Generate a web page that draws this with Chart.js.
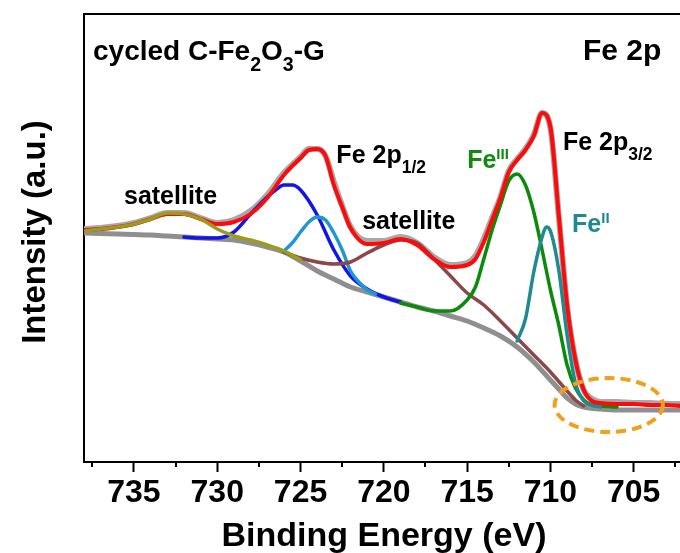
<!DOCTYPE html>
<html>
<head>
<meta charset="utf-8">
<title>Fe 2p</title>
<script src="https://cdn.jsdelivr.net/npm/chart.js@4.4.1/dist/chart.umd.min.js"></script>
<style>
    html, body { margin: 0; padding: 0; background: #fff; overflow: hidden; }
    #wrap { width: 680px; height: 553px; overflow: hidden; }
</style>
</head>
<body>
<div id="wrap"><canvas id="xps" width="720" height="553"></canvas></div>
<script>
// ============================
// Fe 2p spectrum (binding energy in eV, intensity in a.u.)
// ============================
const fitEnergy = [738, 737, 736, 735, 734, 733, 732, 731, 730, 729,
    728, 727, 726, 725, 724.5, 724, 723.5, 723, 722.5, 722,
    721, 720, 719, 718, 717, 716, 715, 714.5, 714, 713.5,
    713, 712.5, 712, 711.5, 711, 710.5, 710, 709.5, 709, 708.5,
    708, 707.5, 707, 706, 705, 704, 703, 702, 701, 700];
const rawCounts = [233, 234, 236, 239, 244, 249, 249, 244, 239, 242,
    251, 267, 289, 305, 313, 313, 306, 280, 256, 235,
    221, 221, 225, 219, 205, 197, 199, 206, 223, 244,
    265, 291, 303, 313, 327, 349, 334, 246, 156, 102,
    72, 63, 60, 60, 59, 59, 58, 58, 58, 58];
const envelopeCounts = [232, 233, 235, 238, 243, 248, 248, 243, 238, 240,
    248, 264, 287, 304, 312, 313, 306, 277, 255, 234,
    218, 219, 223, 217, 203, 195, 197, 203, 220, 242,
    264, 290, 302, 312, 326, 349, 335, 247, 157, 102,
    72, 61, 59, 58, 58, 57, 57, 56, 56, 56];

// Shirley background
const bgEnergy = [738, 737, 736, 735, 734, 733, 732, 731, 730, 729,
    728, 727, 726, 725, 724, 723, 722, 721, 720, 719,
    718, 717, 716, 715, 714, 713, 712, 711, 710, 709.5,
    709, 708.5, 708, 707, 706, 704, 702, 700];
const bgCounts = [229, 228.5, 228, 227.5, 227, 226, 225, 224, 223, 222,
    219, 215, 210, 201, 191, 183, 175, 170, 165, 160,
    155, 151, 146, 141, 134, 126, 115, 100, 82, 73,
    64, 58, 55, 53, 52, 52, 52, 52];

// satellite near 733 eV
const sat1Energy = [738, 737, 736, 735, 734, 733, 732, 731, 730, 729, 728, 727, 726, 725];
const sat1Counts = [231, 233, 235, 238, 243, 249, 248, 243, 233, 226, 222, 217, 211, 202];

// Fe 2p1/2 : Fe(III) and Fe(II)
const fe3HalfEnergy = [732, 731, 730, 729, 728, 727, 726.5, 726, 725.5, 725, 724, 723, 722, 721, 720, 719];
const fe3HalfCounts = [225, 224, 224, 230, 248, 265, 272, 277, 277, 272, 247, 212, 186, 173, 165, 160];
const fe2HalfEnergy = [726, 725.5, 725, 724.5, 724, 723.5, 723, 722.5, 722, 721.5, 721, 720.5];
const fe2HalfCounts = [211, 219, 230, 240, 245, 242, 229, 212, 191, 180, 172, 168];

// satellite near 719 eV
const sat2Energy = [726, 725, 724, 723, 722, 721, 720, 719, 718, 717,
    716, 715, 714, 713, 712, 711, 710, 709, 708.5, 708];
const sat2Counts = [210, 204, 200, 198, 200, 209, 217, 222, 219, 203,
    186, 169, 157, 141, 124, 107, 90, 71, 62, 56];

// Fe 2p3/2 : Fe(III) and Fe(II)
const fe3Energy = [719, 718, 717, 716, 715, 714.5, 714, 713.5, 713, 712.5, 712,
    711.5, 711, 710.5, 710, 709.5, 709, 708.5, 708, 707.5, 707, 706];
const fe3Counts = [159, 155, 151, 151, 162, 175, 203, 232, 257, 281, 288,
    277, 250, 212, 172, 137, 97, 74, 62, 57, 56, 55];
const fe2Energy = [712, 711.5, 711, 710.5, 710.25, 710, 709.5, 709, 708.5, 708, 707.5, 707];
const fe2Counts = [121, 143, 190, 225, 235, 231, 192, 127, 79, 61, 57, 55];

const majorTicks = [735, 730, 725, 720, 715, 710, 705];
const minorTicks = [737.5, 732.5, 727.5, 722.5, 717.5, 712.5, 707.5, 702.5];

const FONT = "'Liberation Sans', Arial, sans-serif";

function pts(xs, ys) {
    return xs.map((x, i) => ({ x: x, y: ys[i] }));
}

function serie(label, xs, ys, color, width) {
    return {
        label: label,
        data: pts(xs, ys),
        borderColor: color,
        borderWidth: width,
        pointRadius: 0,
        fill: false,
        cubicInterpolationMode: 'monotone',
        borderCapStyle: 'round',
        borderJoinStyle: 'round'
    };
}

// texte avec indices / exposants
function richText(ctx, x, y, parts, size, color, align) {
    ctx.fillStyle = color;
    ctx.textBaseline = 'alphabetic';
    ctx.textAlign = 'left';
    const fontOf = p => {
        if (p.sub) return { s: size * 0.7, dy: size * 0.38 };
        if (p.sup) return { s: size * 0.6, dy: -size * 0.38 };
        return { s: size, dy: 0 };
    };
    // largeur totale pour l'alignement centré
    let total = 0;
    parts.forEach(p => {
        ctx.font = `bold ${fontOf(p).s}px ${FONT}`;
        total += ctx.measureText(p.t).width;
    });
    let cx = align === 'center' ? x - total / 2 : x;
    parts.forEach(p => {
        const f = fontOf(p);
        ctx.font = `bold ${f.s}px ${FONT}`;
        ctx.fillText(p.t, cx, y + f.dy);
        cx += ctx.measureText(p.t).width;
    });
}

const decorPlugin = {
    id: 'decor',
    afterDraw(chart) {
        const { ctx, chartArea, scales } = chart;
        const xs = scales.x, ys = scales.y;
        ctx.save();

        // cadre haut + droite
        ctx.strokeStyle = '#000';
        ctx.lineWidth = 2;
        ctx.beginPath();
        ctx.moveTo(chartArea.left, chartArea.top);
        ctx.lineTo(chartArea.right, chartArea.top);
        ctx.lineTo(chartArea.right, chartArea.bottom);
        ctx.stroke();

        // petites graduations
        ctx.beginPath();
        minorTicks.forEach(v => {
            const px = Math.round(xs.getPixelForValue(v));
            ctx.moveTo(px, chartArea.bottom);
            ctx.lineTo(px, chartArea.bottom + 5);
        });
        ctx.stroke();

        // ellipse pointillée (zone sans signal)
        const cx = xs.getPixelForValue(706.5), cy = ys.getPixelForValue(57);
        const rx = Math.abs(xs.getPixelForValue(703.25) - cx);
        const ry = Math.abs(ys.getPixelForValue(84) - cy);
        ctx.strokeStyle = '#f0a01e';
        ctx.lineWidth = 4;
        ctx.setLineDash([10, 6]);
        ctx.beginPath();
        ctx.ellipse(cx, cy, rx, ry, 0, 0, Math.PI * 2);
        ctx.stroke();
        ctx.setLineDash([]);

        // étiquettes des pics
        const lab = (e, c) => [xs.getPixelForValue(e), ys.getPixelForValue(c)];
        let p;
        p = lab(735.6, 258); richText(ctx, p[0], p[1], [{ t: 'satellite' }], 25, '#000');
        p = lab(721.3, 233); richText(ctx, p[0], p[1], [{ t: 'satellite' }], 25, '#000');
        p = lab(722.85, 299); richText(ctx, p[0], p[1], [{ t: 'Fe 2p' }, { t: '1/2', sub: true }], 25, '#000');
        p = lab(709.25, 312); richText(ctx, p[0], p[1], [{ t: 'Fe 2p' }, { t: '3/2', sub: true }], 25, '#000');
        p = lab(715.0, 294); richText(ctx, p[0], p[1], [{ t: 'Fe' }, { t: 'III', sup: true }], 25, '#118a11');
        p = lab(708.7, 230); richText(ctx, p[0], p[1], [{ t: 'Fe' }, { t: 'II', sup: true }], 25, '#1f8a8f');

        // titres dans le cadre
        richText(ctx, chartArea.left + 9, chartArea.top + 46,
            [{ t: 'cycled C-Fe' }, { t: '2', sub: true }, { t: 'O' }, { t: '3', sub: true }, { t: '-G' }], 28, '#000');
        richText(ctx, 583, chartArea.top + 46, [{ t: 'Fe 2p' }], 30, '#000');

        // titres des axes
        richText(ctx, 384, 546, [{ t: 'Binding Energy (eV)' }], 34, '#000', 'center');
        ctx.save();
        ctx.translate(45, 232);
        ctx.rotate(-Math.PI / 2);
        richText(ctx, 0, 0, [{ t: 'Intensity (a.u.)' }], 33, '#000', 'center');
        ctx.restore();

        ctx.restore();
    }
};

const ctx = document.getElementById('xps').getContext('2d');
new Chart(ctx, {
    type: 'line',
    data: {
        datasets: [
            serie('Satellite 733', sat1Energy, sat1Counts, '#9c9c1c', 3.5),
            serie('Enveloppe', fitEnergy, envelopeCounts, '#ff0a0a', 4),
            serie('Fe(II) 2p3/2', fe2Energy, fe2Counts, '#1f8a8f', 3.5),
            serie('Fe(III) 2p3/2', fe3Energy, fe3Counts, '#0c8a0c', 3.5),
            serie('Satellite 719', sat2Energy, sat2Counts, '#8a4848', 3.5),
            serie('Fe(II) 2p1/2', fe2HalfEnergy, fe2HalfCounts, '#2196d3', 3.5),
            serie('Fe(III) 2p1/2', fe3HalfEnergy, fe3HalfCounts, '#1414e6', 3.5),
            serie('Fond', bgEnergy, bgCounts, '#8f8f8f', 5),
            serie('Mesure', fitEnergy, rawCounts, '#a8a8a8', 6)
        ]
    },
    options: {
        responsive: false,
        animation: false,
        devicePixelRatio: 1,
        layout: { padding: { top: 14, right: 3, bottom: 0, left: 0 } },
        plugins: {
            legend: { display: false },
            tooltip: { enabled: false }
        },
        scales: {
            x: {
                type: 'linear',
                reverse: true,
                min: 700,
                max: 738,
                afterBuildTicks: (scale) => { scale.ticks = majorTicks.map(v => ({ value: v })); },
                afterFit: (scale) => { scale.height = 91; },
                grid: { drawOnChartArea: false, drawTicks: true, tickLength: 10, tickWidth: 2, tickColor: '#000' },
                border: { display: true, color: '#000', width: 2 },
                ticks: {
                    color: '#000',
                    padding: 2,
                    maxRotation: 0,
                    autoSkip: false,
                    font: { family: FONT, size: 32, weight: 'bold' }
                },
                title: { display: false }
            },
            y: {
                type: 'linear',
                min: 0,
                max: 448,
                afterFit: (scale) => { scale.width = 84; },
                grid: { display: false },
                border: { display: true, color: '#000', width: 2 },
                ticks: { display: false },
                title: { display: false }
            }
        }
    },
    plugins: [decorPlugin]
});
</script>
</body>
</html>
